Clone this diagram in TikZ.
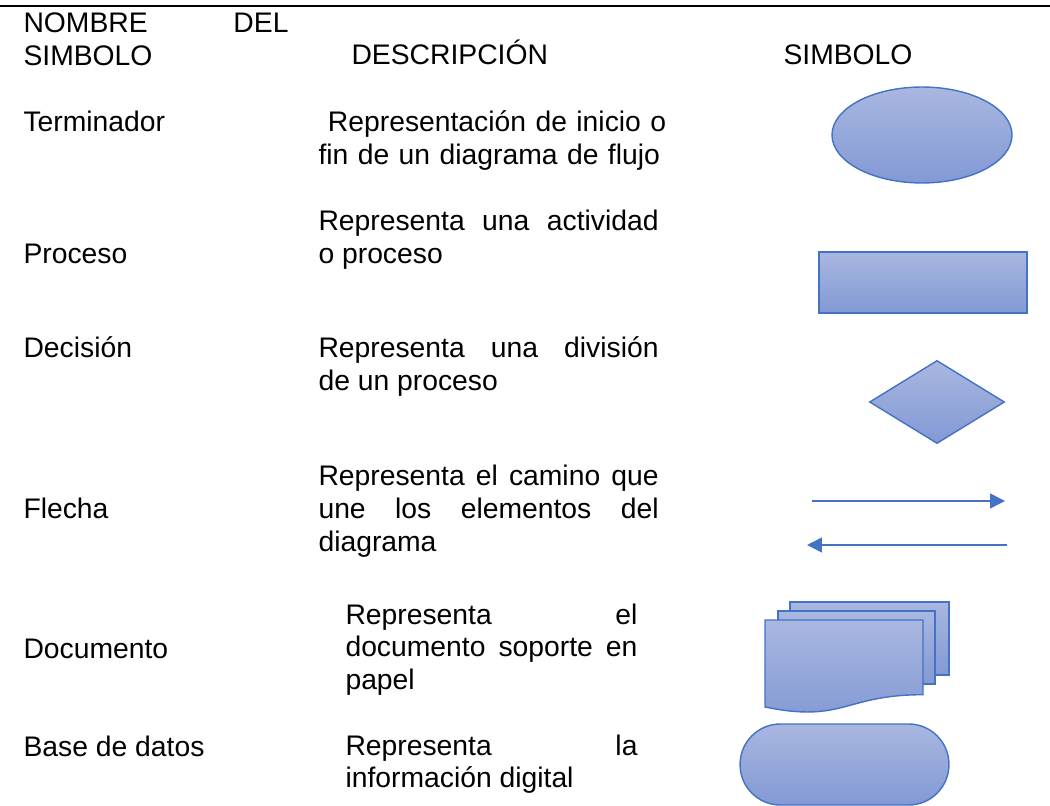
\documentclass[tikz,border=0pt]{standalone}
\usepackage{fontspec}
\setmainfont{Liberation Sans}
\usetikzlibrary{shapes.geometric}
\usetikzlibrary{arrows.meta, positioning}
\definecolor{symline}{HTML}{4472C4}
\definecolor{symtop}{HTML}{A9B7E0}
\definecolor{symbot}{HTML}{8299D5}

\begin{document}
\begin{tikzpicture}[x=0.3887pt, y=-0.3887pt,
    every node/.style={font=\fontsize{11}{12.7}\selectfont, inner sep=0pt},
    name text/.style={anchor=base west},
    desc text/.style={anchor=base west, text width=132.2pt, align=justify},
    desc short/.style={desc text, text width=113.5pt},
    symbol/.style={draw=symline, line width=0.55pt,
        top color=symtop, bottom color=symbot},
    flow/.style={draw=symline, line width=0.55pt,
        -{Triangle[length=5.8pt, width=5.8pt]}}]
    \useasboundingbox (0,0) rectangle (1050,806);

    \draw[line width=1pt] (0,6) -- (1050,6);

    % encabezado
    \node[desc text, text width=103pt] (hnombre) at (23,33) {NOMBRE DEL\linebreak SIMBOLO};
    \node[name text] (hdesc) at (351,65) {DESCRIPCIÓN};
    \node[name text] (hsimb) at (783,65) {SIMBOLO};

    % nombres
    \node[name text] (nterm) at (23,132) {Terminador};
    \node[name text] (nproc) at (23,264) {Proceso};
    \node[name text] (ndec) at (23,358) {Decisión};
    \node[name text] (nflecha) at (23,519) {Flecha};
    \node[name text] (ndoc) at (23,658) {Documento};
    \node[name text] (nbase) at (23,756) {Base de datos};

    % descripciones
    \node[desc text, text width=145pt, align=left] (dterm) at (318,132)
        {~Representación de inicio o\\fin de un diagrama de flujo};
    \node[desc text] (dproc) at (318,231) {Representa una actividad\linebreak o proceso};
    \node[desc text] (ddec) at (318,358) {Representa una división\linebreak de un proceso};
    \node[desc text] (dflecha) at (318,486)
        {Representa el camino que\linebreak une los elementos del\linebreak diagrama};
    \node[desc short] (ddoc) at (345,624)
        {Representa el\linebreak documento soporte en\linebreak papel};
    \node[desc short] (dbase) at (345,755) {Representa la\linebreak información digital};

    % simbolos
    \node[symbol, ellipse, minimum width=69.97pt, minimum height=37.3pt] (sterm) at (922,135) {};
    \node[symbol, rectangle, minimum width=80.85pt, minimum height=23.7pt] (sproc) at (923,282.5) {};
    \node[symbol, diamond, minimum width=52.5pt, minimum height=32.3pt] (sdec) at (937,402) {};

    \coordinate (r1) at (812,501);
    \coordinate (r2) at (1005,501);
    \coordinate (l1) at (1007,545);
    \coordinate (l2) at (807,545);
    \draw[flow] (r1) -- (r2);
    \draw[flow] (l1) -- (l2);

    \path[symbol] (790,602) rectangle (949,675);
    \path[symbol] (778,611) rectangle (935,684);
    \path[symbol] (765,620) -- (923,620) -- (923,694.7)
        .. controls (844,694.7) and (844,723.2) .. (765,707) -- cycle;

    \node[symbol, rectangle, rounded corners=15.7pt, minimum width=81.2pt,
        minimum height=31.5pt] (sbase) at (844.5,764.5) {};
\end{tikzpicture}
\end{document}
